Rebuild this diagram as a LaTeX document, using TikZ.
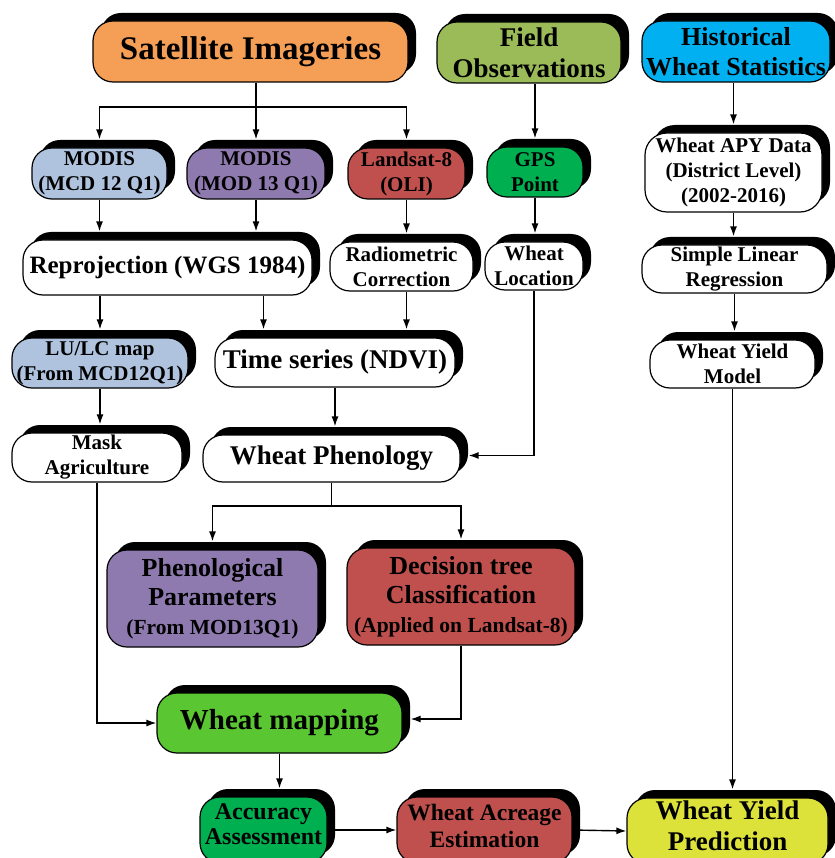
\documentclass[tikz,border=0pt]{standalone}
\usepackage{fontspec}
\setmainfont{Liberation Serif}
\usetikzlibrary{arrows.meta,shadows}
\definecolor{satorange}{RGB}{245,158,86}
\definecolor{fieldolive}{RGB}{155,187,89}
\definecolor{histcyan}{RGB}{0,176,240}
\definecolor{modisblue}{RGB}{176,195,222}
\definecolor{modispurple}{RGB}{143,122,176}
\definecolor{landsatred}{RGB}{192,80,77}
\definecolor{gpsgreen}{RGB}{0,176,80}
\definecolor{mapgreen}{RGB}{90,198,50}
\definecolor{yieldyellow}{RGB}{221,226,58}
\begin{document}
\begin{tikzpicture}[x=1pt,y=-1pt,
	box/.style={draw,line width=1.2pt,fill=white,rounded corners=20pt,align=center,inner sep=0pt,
		drop shadow={shadow xshift=8pt,shadow yshift=8pt,opacity=1,fill=black}},
	txtS/.style={font=\bfseries\fontsize{21}{25}\selectfont},
	txtM/.style={font=\bfseries\fontsize{27}{31}\selectfont},
	txtL/.style={font=\bfseries\fontsize{33}{38}\selectfont},
	arr/.style={-{Latex[length=10pt,width=7pt]},line width=1.4pt},
	arrsh/.style={arr,shorten >=8pt}]
		\useasboundingbox (0,0) rectangle (834,858);
		% sources
		\node[box,txtL,fill=satorange,minimum width=315,minimum height=61] (SI) at (250.5,51.5) {Satellite Imageries};
		\node[box,txtM,fill=fieldolive,minimum width=184,minimum height=61] (FO) at (529,52.5) {Field\\Observations};
		\node[box,font=\bfseries\fontsize{26}{30}\selectfont,fill=histcyan,minimum width=188,minimum height=61] (HWS) at (736,51.5) {Historical\\Wheat Statistics};
		% inputs
		\node[box,txtS,fill=modisblue,minimum width=135,minimum height=51] (MCD) at (99.5,173.5) {MODIS\\(MCD 12 Q1)};
		\node[box,txtS,fill=modispurple,minimum width=138,minimum height=51] (MOD) at (256,173.5) {MODIS\\(MOD 13 Q1)};
		\node[box,txtS,fill=landsatred,minimum width=117,minimum height=51] (LS) at (406.5,173.5) {Landsat-8\\(OLI)};
		\node[box,txtS,fill=gpsgreen,minimum width=96,minimum height=50] (GPS) at (535,172) {GPS\\Point};
		\node[box,txtS,rounded corners=22pt,minimum width=177,minimum height=79] (APY) at (733.5,172.5) {Wheat APY Data\\(District Level)\\(2002-2016)};
		% preprocessing
		\node[box,font=\bfseries\fontsize{25}{29}\selectfont,minimum width=289,minimum height=55] (RP) at (167.5,267.5) {Reprojection (WGS 1984)};
		\node[box,txtS,minimum width=143,minimum height=49] (RC) at (401.5,266.5) {Radiometric\\Correction};
		\node[box,txtS,minimum width=98,minimum height=48] (WL) at (534,266) {Wheat\\Location};
		\node[box,txtS,minimum width=185,minimum height=48] (SLR) at (734.5,269) {Simple Linear\\Regression};
		\node[box,txtS,fill=modisblue,minimum width=176,minimum height=50] (LULC) at (100,363) {LU/LC map\\(From MCD12Q1)};
		\node[box,txtM,minimum width=240,minimum height=49] (TS) at (335,362.5) {Time series (NDVI)};
		\node[box,txtS,minimum width=165,minimum height=48] (WYM) at (732.5,364) {Wheat Yield\\Model};
		\node[box,txtS,minimum width=170,minimum height=49] (MA) at (97,457.5) {Mask\\Agriculture};
		\node[box,txtM,minimum width=257,minimum height=47] (WP) at (331.5,458.5) {Wheat Phenology};
		% classification
		\node[box,font=\bfseries\fontsize{26}{29}\selectfont,fill=modispurple,minimum width=211,minimum height=97] (PP) at (212.5,598.5)
			{Phenological\\Parameters\\\fontsize{21.5}{30}\selectfont(From MOD13Q1)};
		\node[box,font=\bfseries\fontsize{26}{29}\selectfont,fill=landsatred,minimum width=228,minimum height=97] (DT) at (461,596.5)
			{Decision tree\\Classification\\\fontsize{21.5}{30}\selectfont(Applied on Landsat-8)};
		\node[box,font=\bfseries\fontsize{29}{33}\selectfont,fill=mapgreen,minimum width=245,minimum height=60] (WM) at (279.5,723) {Wheat mapping};
		% outputs
		\node[box,font=\bfseries\fontsize{24}{25}\selectfont,text depth=11pt,fill=gpsgreen,minimum width=127,minimum height=66] (AA) at (263.5,830) {Accuracy\\Assessment};
		\node[box,font=\bfseries\fontsize{23.5}{27}\selectfont,text depth=9pt,fill=landsatred,minimum width=175,minimum height=66] (WAE) at (484.5,830) {Wheat Acreage\\Estimation};
		\node[box,txtM,text depth=11pt,fill=yieldyellow,minimum width=201,minimum height=66] (WYP) at (727.5,831) {Wheat Yield\\Prediction};
		% connectors
		\coordinate (b1) at (0,107);
		\coordinate (b2) at (0,506);
		\draw[arrsh] (SI.south -| MOD) -- (MOD.north);
		\draw[arrsh] (SI.south -| MOD) |- (b1 -| MCD) -- (MCD.north);
		\draw[arrsh] (SI.south -| MOD) |- (b1 -| LS) -- (LS.north);
		\draw[arrsh] (FO.south -| GPS) -- (GPS.north);
		\draw[arrsh] (HWS.south -| APY) -- (APY.north);
		\draw[arrsh] (MCD.south) -- (MCD.south |- RP.north);
		\draw[arrsh] (MOD.south) -- (MOD.south |- RP.north);
		\draw[arrsh] (LS.south) -- (LS.south |- RC.north);
		\draw[arrsh] (GPS.south) -- (GPS.south |- WL.north);
		\draw[arrsh] (APY.south) -- (APY.south |- SLR.north);
		\draw[arrsh] (RP.south -| LULC) -- (LULC.north);
		\draw[arrsh] ([xshift=96pt]RP.south) -- ([xshift=96pt]RP.south |- TS.north);
		\draw[arrsh] (RC.south -| LS) -- (LS |- TS.north);
		\draw[arrsh] (SLR.south) -- (SLR.south |- WYM.north);
		\draw[arrsh] (LULC.south) -- (LULC.south |- MA.north);
		\draw[arrsh] (TS.south) -- (TS.south |- WP.north);
		\draw[arrsh] (WL.south) |- ([yshift=3pt]WP.east);
		\draw[arrsh] (WP.south) |- (b2 -| PP) -- (PP.north);
		\draw[arrsh] (WP.south) |- (b2 -| DT) -- (DT.north);
		\draw[arr] (MA.south) |- (WM.west);
		\draw[arrsh] (DT.south) |- ([yshift=4pt]WM.east);
		\draw[arrsh] (WM.south) -- (WM.south |- AA.north);
		\draw[arr] (AA.east) -- (WAE.west);
		\draw[arr] (WAE.east) -- (WYP.west);
		\draw[arrsh] (WYM.south) -- (WYM.south |- WYP.north);
	\end{tikzpicture}
\end{document}
